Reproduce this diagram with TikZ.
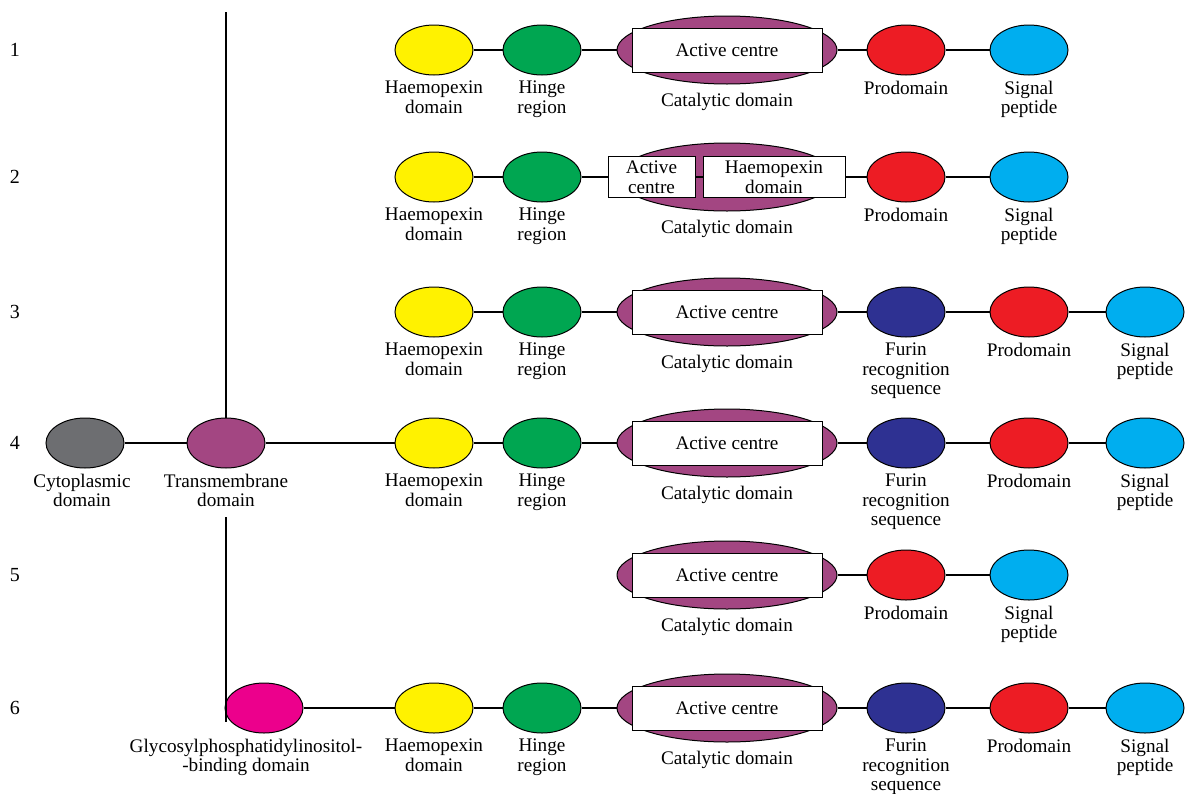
\documentclass[tikz,border=0pt]{standalone}
\usepackage{fontspec}
\setmainfont{Liberation Serif}
\usetikzlibrary{positioning,shapes.geometric}
\definecolor{mmgrey}{HTML}{6D6E71}
\definecolor{mmpurple}{HTML}{A34682}
\definecolor{mmyellow}{HTML}{FFF200}
\definecolor{mmgreen}{HTML}{00A651}
\definecolor{mmred}{HTML}{ED1C24}
\definecolor{mmblue}{HTML}{00AEEF}
\definecolor{mmnavy}{HTML}{2E3192}
\definecolor{mmpink}{HTML}{EC008C}

\begin{document}
\begin{tikzpicture}[
  x=0.5pt,y=-0.5pt,
  font=\fontsize{9.6}{9.8}\selectfont,
  line width=0.55pt,
  dom/.style={ellipse,draw,line width=0.5pt,minimum width=39pt,minimum height=25pt,inner sep=0pt},
  cat/.style={ellipse,draw,line width=0.5pt,fill=mmpurple,minimum width=110pt,minimum height=34pt,inner sep=0pt},
  actbox/.style={draw,line width=0.5pt,fill=white,minimum width=95pt,minimum height=22pt,inner sep=0pt},
  lbl/.style={align=center,inner sep=0pt}]
\useasboundingbox (0,0) rectangle (1189,793);

% row numbers
\foreach \r/\y in {1/50,2/177,3/312,4/443,5/575,6/708}
  \node[font=\fontsize{10}{10}\selectfont] (num\r) at (15,\y) {\r};

% 1
\node[dom,fill=mmyellow] (hx1) at (434,50) {};
\node[dom,fill=mmgreen] (hg1) at (542,50) {};
\node[cat] (ct1) at (727,50) {};
\node[actbox] (ac1) at (727,50) {Active centre};
\node[dom,fill=mmred] (pd1) at (906,50) {};
\node[dom,fill=mmblue] (sp1) at (1029,50) {};
\draw (hx1) -- (hg1) -- (ct1) -- (pd1) -- (sp1);
\node[lbl,below=2.5pt of hx1] (lhx1) {Haemopexin\\domain};
\node[lbl,below=2.5pt of hg1] (lhg1) {Hinge\\region};
\node[lbl,below=4pt of ct1] (lct1) {Catalytic domain};
\node[lbl,below=2.5pt of pd1] (lpd1) {Prodomain};
\node[lbl,below=2.5pt of sp1] (lsp1) {Signal\\peptide};

% 2
\node[dom,fill=mmyellow] (hx2) at (434,177) {};
\node[dom,fill=mmgreen] (hg2) at (542,177) {};
\node[cat] (ct2) at (727,177) {};
\node[draw,line width=0.5pt,fill=white,minimum width=43.5pt,minimum height=20.5pt,inner sep=0pt,align=center] (ac2) at (651.5,177) {Active\\centre};
\node[draw,line width=0.5pt,fill=white,minimum width=71pt,minimum height=20.5pt,inner sep=0pt,align=center] (hb2) at (774,177) {Haemopexin\\domain};
\node[dom,fill=mmred] (pd2) at (906,177) {};
\node[dom,fill=mmblue] (sp2) at (1029,177) {};
\draw (hx2) -- (hg2) -- (ac2) -- (hb2) -- (pd2) -- (sp2);
\node[lbl,below=2.5pt of hx2] (lhx2) {Haemopexin\\domain};
\node[lbl,below=2.5pt of hg2] (lhg2) {Hinge\\region};
\node[lbl,below=4pt of ct2] (lct2) {Catalytic domain};
\node[lbl,below=2.5pt of pd2] (lpd2) {Prodomain};
\node[lbl,below=2.5pt of sp2] (lsp2) {Signal\\peptide};

% 3
\node[dom,fill=mmyellow] (hx3) at (434,312) {};
\node[dom,fill=mmgreen] (hg3) at (542,312) {};
\node[cat] (ct3) at (727,312) {};
\node[actbox] (ac3) at (727,312) {Active centre};
\node[dom,fill=mmnavy] (fr3) at (906,312) {};
\node[dom,fill=mmred] (pd3) at (1029,312) {};
\node[dom,fill=mmblue] (sp3) at (1145,312) {};
\draw (hx3) -- (hg3) -- (ct3) -- (fr3) -- (pd3) -- (sp3);
\node[lbl,below=2.5pt of hx3] (lhx3) {Haemopexin\\domain};
\node[lbl,below=2.5pt of hg3] (lhg3) {Hinge\\region};
\node[lbl,below=4pt of ct3] (lct3) {Catalytic domain};
\node[lbl,below=2.5pt of fr3] (lfr3) {Furin\\recognition\\sequence};
\node[lbl,below=2.5pt of pd3] (lpd3) {Prodomain};
\node[lbl,below=2.5pt of sp3] (lsp3) {Signal\\peptide};

% 4
\node[dom,fill=mmgrey] (cy4) at (85,443) {};
\node[dom,fill=mmpurple] (tm4) at (226,443) {};
\node[dom,fill=mmyellow] (hx4) at (434,443) {};
\node[dom,fill=mmgreen] (hg4) at (542,443) {};
\node[cat] (ct4) at (727,443) {};
\node[actbox] (ac4) at (727,443) {Active centre};
\node[dom,fill=mmnavy] (fr4) at (906,443) {};
\node[dom,fill=mmred] (pd4) at (1029,443) {};
\node[dom,fill=mmblue] (sp4) at (1145,443) {};
\draw (cy4) -- (tm4) -- (hx4) -- (hg4) -- (ct4) -- (fr4) -- (pd4) -- (sp4);
\node[lbl,below=2.5pt of cy4,xshift=-1.5pt] (lcy4) {Cytoplasmic\\domain};
\node[lbl,below=2.5pt of tm4] (ltm4) {Transmembrane\\domain};
\node[lbl,below=2.5pt of hx4] (lhx4) {Haemopexin\\domain};
\node[lbl,below=2.5pt of hg4] (lhg4) {Hinge\\region};
\node[lbl,below=4pt of ct4] (lct4) {Catalytic domain};
\node[lbl,below=2.5pt of fr4] (lfr4) {Furin\\recognition\\sequence};
\node[lbl,below=2.5pt of pd4] (lpd4) {Prodomain};
\node[lbl,below=2.5pt of sp4] (lsp4) {Signal\\peptide};

% 5
\node[cat] (ct5) at (727,575) {};
\node[actbox] (ac5) at (727,575) {Active centre};
\node[dom,fill=mmred] (pd5) at (906,575) {};
\node[dom,fill=mmblue] (sp5) at (1029,575) {};
\draw (ct5) -- (pd5) -- (sp5);
\node[lbl,below=4pt of ct5] (lct5) {Catalytic domain};
\node[lbl,below=2.5pt of pd5] (lpd5) {Prodomain};
\node[lbl,below=2.5pt of sp5] (lsp5) {Signal\\peptide};

% 6
\node[dom,fill=mmpink] (gp6) at (264,708) {};
\node[dom,fill=mmyellow] (hx6) at (434,708) {};
\node[dom,fill=mmgreen] (hg6) at (542,708) {};
\node[cat] (ct6) at (727,708) {};
\node[actbox] (ac6) at (727,708) {Active centre};
\node[dom,fill=mmnavy] (fr6) at (906,708) {};
\node[dom,fill=mmred] (pd6) at (1029,708) {};
\node[dom,fill=mmblue] (sp6) at (1145,708) {};
\draw (gp6) -- (hx6) -- (hg6) -- (ct6) -- (fr6) -- (pd6) -- (sp6);
\node[lbl,below=2.5pt of gp6,xshift=-9pt] (lgp6) {Glycosylphosphatidylinositol-\\-binding domain};
\node[lbl,below=2.5pt of hx6] (lhx6) {Haemopexin\\domain};
\node[lbl,below=2.5pt of hg6] (lhg6) {Hinge\\region};
\node[lbl,below=4pt of ct6] (lct6) {Catalytic domain};
\node[lbl,below=2.5pt of fr6] (lfr6) {Furin\\recognition\\sequence};
\node[lbl,below=2.5pt of pd6] (lpd6) {Prodomain};
\node[lbl,below=2.5pt of sp6] (lsp6) {Signal\\peptide};

% membrane line
\coordinate (mtop) at (226,12);
\coordinate (mlow) at (226,517);
\coordinate (mend) at (226,722);
\draw (mtop) -- (tm4.north);
\draw (mlow) -- (mend);
\end{tikzpicture}
\end{document}
